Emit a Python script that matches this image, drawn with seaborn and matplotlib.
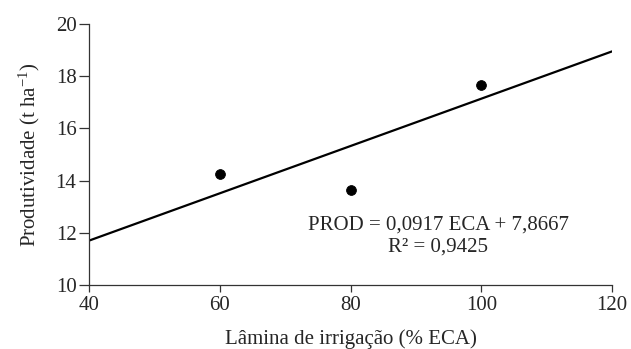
import pandas as pd
import matplotlib.pyplot as plt
import seaborn as sns

# Observed points
lamina = [60, 80, 100]
produtividade = [14.25, 13.65, 17.65]

# Fitted line endpoints (as drawn in the picture)
linha_x = [40, 120]
linha_y = [11.7, 18.95]

x_ticks = [40, 60, 80, 100, 120]
y_ticks = [10, 12, 14, 16, 18, 20]

sns.set_style("ticks")
plt.rcParams['font.family'] = ['Liberation Serif', 'DejaVu Serif']
plt.rcParams['mathtext.fontset'] = 'custom'
plt.rcParams['mathtext.rm'] = 'Liberation Serif'
plt.rcParams['mathtext.it'] = 'Liberation Serif:italic'

pontos = pd.DataFrame({'x': lamina, 'y': produtividade})
reta = pd.DataFrame({'x': linha_x, 'y': linha_y})

fig = plt.figure(figsize=(6.31, 3.49), dpi=100)
ax = fig.add_axes([89/631, 1 - 285/349, (612-89)/631, (285-24)/349])

sns.lineplot(data=reta, x='x', y='y', color='black', linewidth=1.6, ax=ax)
sns.scatterplot(data=pontos, x='x', y='y', color='black', s=50,
                edgecolor='black', zorder=3, ax=ax)

ax.set_xlim(40, 120)
ax.set_ylim(10, 20)
ax.set_xticks(x_ticks)
ax.set_yticks(y_ticks)
ax.tick_params(axis='both', labelsize=15, color='#333333', width=0.9)
ax.tick_params(axis='x', length=5, pad=3)
ax.tick_params(axis='y', length=7, pad=2)
for s in ['left', 'bottom']:
    ax.spines[s].set_color('#333333')
    ax.spines[s].set_linewidth(0.9)
sns.despine(ax=ax)

ax.set_xlabel('Lâmina de irrigação (% ECA)', fontsize=15, labelpad=10.5)
ax.set_ylabel(r'Produtividade (t ha$^{\mathregular{-1}}$)', fontsize=15, labelpad=10)

ax.text(93.4, 12.3, 'PROD = 0,0917 ECA + 7,8667', fontsize=15,
        ha='center', va='center')
ax.text(93.4, 11.45, 'R² = 0,9425', fontsize=15, ha='center', va='center')

fig.savefig('out.png', dpi=100)
